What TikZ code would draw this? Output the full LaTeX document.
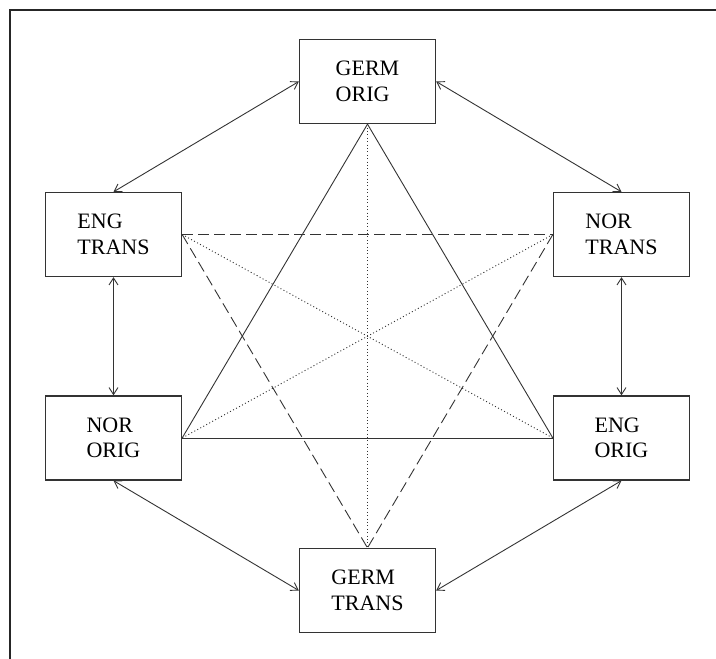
\documentclass[tikz,border=0pt]{standalone}
\usepackage{fontspec}
\setmainfont{Liberation Serif}
\usetikzlibrary{arrows.meta}
\begin{document}
\begin{tikzpicture}[x=1pt,y=-1pt,
  box/.style={draw=black!80,line width=1.3pt,minimum width=136pt,minimum height=84pt,inner sep=0pt,align=left,font=\fontsize{22}{25.5}\selectfont},
  link/.style={draw=black!80,line width=0.9pt},
  dots/.style={link,dash pattern=on 1pt off 2.4pt},
  dashes/.style={link,dash pattern=on 11pt off 5pt},
  dbl/.style={link,{Straight Barb[length=7pt,width=9pt]}-{Straight Barb[length=7pt,width=9pt]}}]
\useasboundingbox (0,0) rectangle (716,659);
\draw[line width=2pt,black!85] (9.5,659) -- (9.5,10) -- (716,10);
\node[box] (go) at (367.5,81.5) {GERM\\ORIG};
\node[box] (et) at (113.5,234.5) {ENG\\TRANS};
\node[box] (nt) at (621.5,234.5) {NOR\\TRANS};
\node[box] (no) at (113.5,438) {NOR\\ORIG};
\node[box] (eo) at (621.5,438) {ENG\\ORIG};
\node[box] (gt) at (367.5,590.5) {GERM\\TRANS};
% solid triangle
\draw[link] (go.south) -- (no.east);
\draw[link] (go.south) -- (eo.west);
\draw[link] (no.east) -- (eo.west);
% dashed triangle
\draw[dashes] (et.east) -- (nt.west);
\draw[dashes] (et.east) -- (gt.north);
\draw[dashes] (nt.west) -- (gt.north);
% dotted
\draw[dots] (go.south) -- (gt.north);
\draw[dots] (et.east) -- (eo.west);
\draw[dots] (nt.west) -- (no.east);
% arrows
\draw[dbl] (go.west) -- (et.north);
\draw[dbl] (go.east) -- (nt.north);
\draw[dbl] (et.south) -- (no.north);
\draw[dbl] (nt.south) -- (eo.north);
\draw[dbl] (no.south) -- (gt.west);
\draw[dbl] (eo.south) -- (gt.east);
\end{tikzpicture}
\end{document}
